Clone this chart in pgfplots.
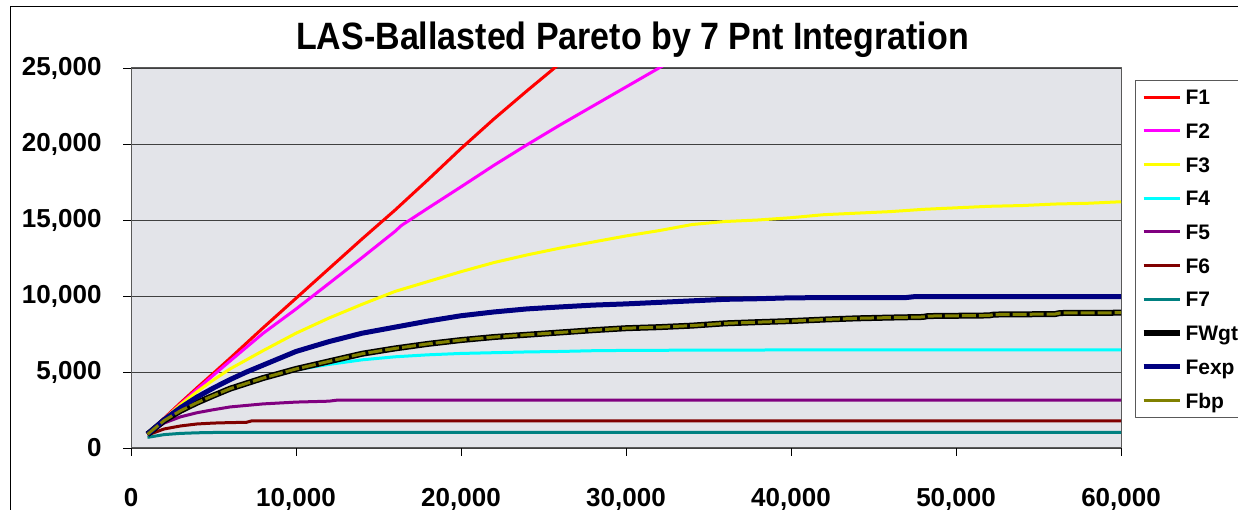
\documentclass[border=0pt]{standalone}
\usepackage{pgfplots}
\pgfplotsset{compat=1.18}
\usepackage{fontspec}
\setmainfont{Liberation Sans}
\usepackage{graphicx}
\definecolor{marble}{RGB}{227,228,233}
\definecolor{cF1}{RGB}{255,0,0}
\definecolor{cF2}{RGB}{255,0,255}
\definecolor{cF3}{RGB}{255,255,0}
\definecolor{cF4}{RGB}{0,255,255}
\definecolor{cF5}{RGB}{128,0,128}
\definecolor{cF6}{RGB}{128,0,0}
\definecolor{cF7}{RGB}{0,128,128}
\definecolor{cExp}{RGB}{0,0,128}
\definecolor{cBp}{RGB}{128,128,0}
\begin{document}
\begin{tikzpicture}[x=1bp,y=1bp]
\useasboundingbox (0,0) rectangle (1238,510);
\fill[white] (0,0) rectangle (1238,510);
\draw[black, line width=1bp] (10,-20) -- (10,503) -- (1300,503);
\begin{axis}[
  at={(131bp,62bp)}, anchor=south west,
  scale only axis, width=990bp, height=380bp,
  xmin=0, xmax=60000, ymin=0, ymax=25000,
  xtick={0,10000,20000,30000,40000,50000,60000},
  ytick={0,5000,10000,15000,20000,25000},
  scaled ticks=false,
  /pgf/number format/1000 sep={,},
  /pgf/number format/assume math mode=true,
  tick label style={font=\fontsize{26bp}{30bp}\selectfont\bfseries},
  yticklabel style={xshift=-18bp},
  xticklabel style={yshift=-29bp},
  major tick length=8bp, tick align=outside,
  xtick pos=lower, ytick pos=left,
  tick style={black, line width=0.8bp},
  axis line style={black!65, line width=1bp},
  ymajorgrids, major grid style={black!75, line width=0.8bp},
  axis background/.style={fill=marble},
  no markers, line join=round,
  legend style={at={(1.01414,0.9684)}, anchor=north west, draw=black!65, line width=1bp, fill=white,
    font=\fontsize{21bp}{21bp}\selectfont\bfseries, inner xsep=5bp, inner ysep=9bp, row sep=18.5bp,
    /tikz/column sep=3bp,
    nodes={inner sep=0pt, text height=15.2bp, text depth=0bp}},
  legend cell align=left,
  legend image code/.code={\draw[#1, line cap=butt] (0bp,0bp) -- (36bp,0bp);},
]
\addplot[cF1, line width=3bp] table {
x y
1000 900
2000 1950
3000 2970
4000 3960
5000 4920
6000 5900
8000 7900
10000 9850
12000 11800
14000 13750
16000 15650
18000 17650
20000 19700
22000 21650
24000 23500
26000 25300
28000 27100
};
\addlegendentry{F1}
\addplot[cF2, line width=3bp] table {
x y
1000 900
2000 1900
3000 2880
4000 3850
5000 4800
6000 5720
8000 7540
10000 9140
12000 10830
14000 12520
16000 14250
16400 14650
17000 15070
18000 15780
20000 17180
22000 18600
24000 19950
26000 21250
28000 22500
30000 23750
32000 25000
34000 26200
};
\addlegendentry{F2}
\addplot[cF3, line width=3bp] table {
x y
1000 900
2000 1900
3000 2850
4000 3700
5000 4480
6000 5200
8000 6400
10000 7550
12000 8550
14000 9450
16000 10300
18000 10950
20000 11600
22000 12200
24000 12700
26000 13150
28000 13550
30000 13950
32000 14300
34000 14700
36000 14900
38000 15000
40000 15150
42000 15350
44000 15450
46000 15550
48000 15700
50000 15800
52000 15900
54000 15950
56000 16050
58000 16100
60000 16200
};
\addlegendentry{F3}
\addplot[cF4, line width=3bp] table {
x y
1000 900
2000 1800
3000 2450
4000 2980
5000 3450
6000 3900
7000 4250
8000 4600
9000 4900
10000 5150
12000 5500
14000 5800
16000 6000
18000 6130
20000 6220
22000 6270
24000 6320
26000 6350
28000 6400
30000 6420
35000 6440
40000 6450
60000 6450
};
\addlegendentry{F4}
\addplot[cF5, line width=3bp] table {
x y
1000 900
2000 1640
3000 2050
4000 2320
5000 2520
6000 2700
8000 2900
10000 3020
12000 3080
12500 3150
60000 3150
};
\addlegendentry{F5}
\addplot[cF6, line width=3bp] table {
x y
1000 850
2000 1250
3000 1450
4000 1580
5000 1640
6000 1670
7000 1690
7300 1780
60000 1780
};
\addlegendentry{F6}
\addplot[cF7, line width=3bp] table {
x y
1000 700
2000 880
3000 960
4000 1000
5000 1020
60000 1030
};
\addlegendentry{F7}
\pgfplotstableread{
x y
1000 900
2000 1800
3000 2450
4000 2980
5000 3450
6000 3900
7000 4250
8000 4600
9000 4900
10000 5200
12000 5700
14000 6200
16000 6550
18000 6850
20000 7100
22000 7300
24000 7450
26000 7600
28000 7750
30000 7880
32000 7950
34000 8050
36000 8200
38000 8280
40000 8350
42000 8450
44000 8530
46000 8580
48000 8620
48300 8680
52000 8720
52300 8780
56000 8810
56300 8880
60000 8900
}\wgtdata
\addplot[black, line width=6bp] table {\wgtdata};
\addlegendentry{FWgt}
\addplot[cExp, line width=5bp] table {
x y
1000 900
2000 1850
3000 2650
4000 3350
5000 3950
6000 4500
7000 5000
8000 5450
9000 5900
10000 6350
12000 7000
14000 7550
16000 7950
18000 8350
20000 8700
22000 8950
24000 9150
26000 9280
28000 9400
30000 9480
32000 9580
34000 9680
36000 9780
38000 9820
40000 9880
44000 9900
47000 9900
47500 9960
60000 9960
};
\addlegendentry{Fexp}
\addplot[cBp, line width=3bp, dash pattern=on 14bp off 3bp, forget plot] table {\wgtdata};
\addlegendimage{cBp, line width=3bp}
\addlegendentry{Fbp}
\end{axis}
\node[anchor=base] at (632.5,460) {\scalebox{1}[1.12]{\fontsize{34bp}{34bp}\selectfont\bfseries LAS-Ballasted Pareto by 7 Pnt Integration}};
\end{tikzpicture}
\end{document}
